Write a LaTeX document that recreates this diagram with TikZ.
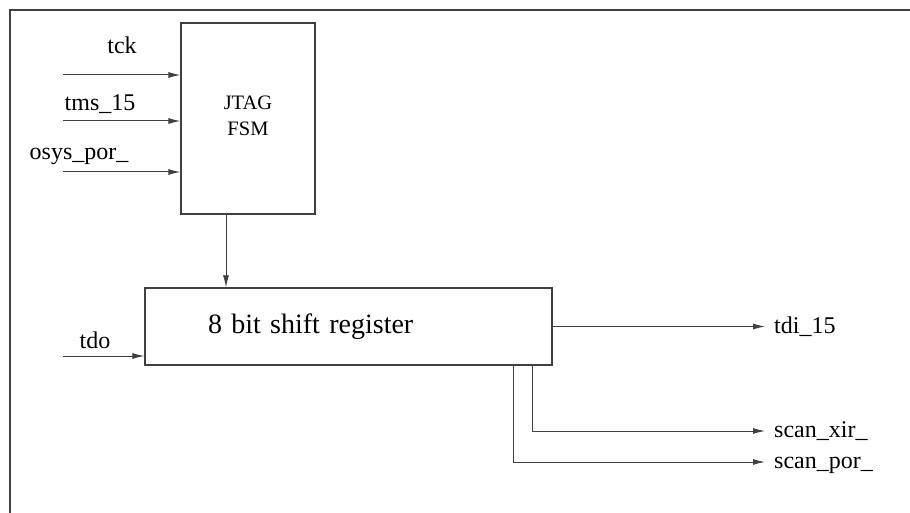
\documentclass[tikz,border=0pt]{standalone}
\usepackage{fontspec}
\setmainfont{Liberation Serif}
\usetikzlibrary{positioning,arrows.meta}

\begin{document}
\begin{tikzpicture}[x=1pt, y=-1pt,
  block/.style={draw=black!75, line width=1.1pt, rectangle, inner sep=0pt},
  wire/.style={draw=black!75, line width=1pt, -{Latex[length=12pt,width=6pt]}},
  sig/.style={font=\fontsize{24}{28}\selectfont, inner sep=0pt},
  outsig/.style={sig, anchor=west, inner xsep=9pt, text height=17pt, text depth=5pt}]
  \useasboundingbox (0,0) rectangle (910,513);
  % Frame
  \draw[black!75, line width=1.3pt] (10,513) |- (910,10);

  % Nodes
  \node[block, minimum width=134pt, minimum height=191pt, align=center, text depth=6pt,
        font=\fontsize{20.5}{26}\selectfont] (fsm) at (248,118.5) {JTAG\\FSM};
  \node[block, minimum width=407pt, minimum height=77pt, text width=281pt, inner xsep=63pt,
        align=left, font=\fontsize{28}{34}\selectfont] (shreg) at (348.5,326.5) {8 bit shift register};

  % Input signals
  \coordinate (tckin) at (63,75);
  \coordinate (tmsin) at (63,121);
  \coordinate (porin) at (63,172);
  \coordinate (tdoin) at (63,356);
  \node[sig, anchor=base] (tcklbl) at (122,54) {tck};
  \node[sig, anchor=base] (tmslbl) at (100,111) {tms\_15};
  \node[sig, anchor=base] (porlbl) at (79,160) {osys\_por\_};
  \node[sig, anchor=base] (tdolbl) at (95,348) {tdo};

  % Output signals
  \node[outsig] (tdi) at (765,327) {tdi\_15};
  \node[outsig] (xir) at (765,431) {scan\_xir\_};
  \node[outsig] (por) at (765,462) {scan\_por\_};

  % Arrows
  \draw[wire] (tckin) -- (tckin -| fsm.west);
  \draw[wire] (tmsin) -- (tmsin -| fsm.west);
  \draw[wire] (porin) -- (porin -| fsm.west);
  \draw[wire] ([xshift=-22pt]fsm.south) -- ([xshift=-22pt]fsm.south |- shreg.north);
  \draw[wire] (tdoin) -- (tdoin -| shreg.west);
  \draw[wire] (shreg.east) -- (shreg.east -| tdi.west);
  \draw[wire] ([xshift=-20pt]shreg.south east) |- (xir.west);
  \draw[wire] ([xshift=-39pt]shreg.south east) |- (por.west);
\end{tikzpicture}
\end{document}
